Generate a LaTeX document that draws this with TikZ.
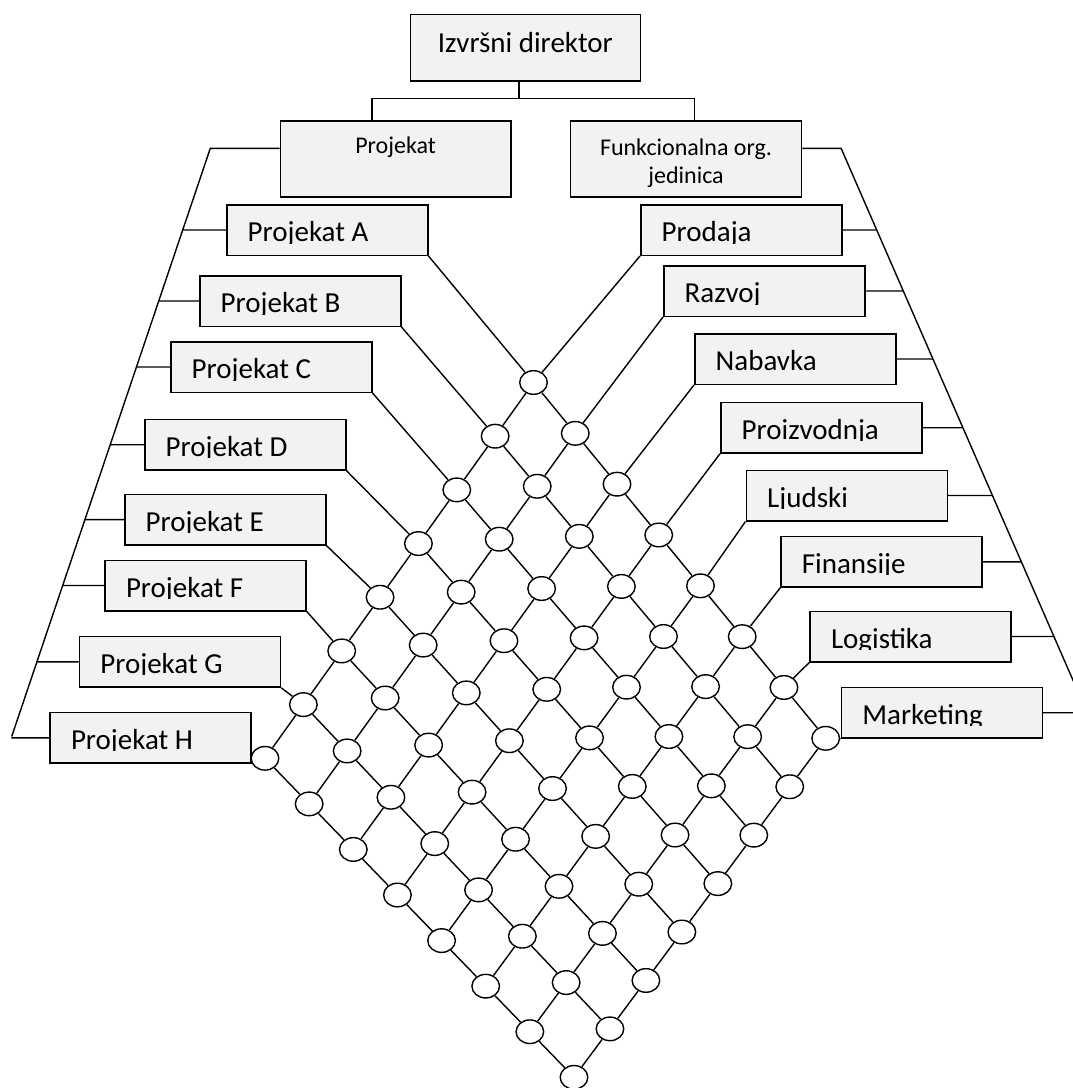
\documentclass[tikz,border=0pt]{standalone}
\usepackage{fontspec}
\setmainfont{Carlito}
\usepackage{tikz}
\usetikzlibrary{positioning, shapes.geometric}
\definecolor{boxGray}{HTML}{F2F2F2}

\begin{document}
\begin{tikzpicture}[
    x = 1pt, y = -1pt,
    rectNode/.style = {draw, fill = boxGray, line width = 1.5pt, rectangle, inner sep = 0pt},
    unitNode/.style = {rectNode, anchor = north west, minimum width = 201pt, minimum height = 50.5pt},
    unitText/.style = {anchor = base west, inner sep = 0pt, font = \fontsize{29pt}{34pt}\selectfont},
    headText/.style = {inner sep = 0pt, font = \fontsize{24pt}{27.6pt}\selectfont},
    cellNode/.style = {draw, fill = white, ellipse, line width = 1.4pt, inner sep = 0pt, minimum width = 27.6pt, minimum height = 23.6pt},
    myLine/.style = {line width = 1.4pt}
    ]
      \useasboundingbox (0,0) rectangle (1073,1088);

      %% Top of the hierarchy
      \node[rectNode, anchor = north west, minimum width = 230pt, minimum height = 66.5pt] (direktor) at (409.6,13.8) {};
      \node[unitText, anchor = base] (direktorText) at ([yshift = -39pt]direktor.north) {Izvršni direktor};

      \node[rectNode, anchor = north west, minimum width = 230.5pt, minimum height = 75.7pt] (projekat) at (279.6,120.3) {};
      \node[headText, anchor = base] (projekatText) at ([yshift = -33.5pt]projekat.north) {Projekat};

      \node[rectNode, anchor = north west, minimum width = 231pt, minimum height = 75.7pt] (funkcija) at (569.8,120.3) {};
      \node[headText, align = center] (funkcijaText) at ([yshift = -4.2pt]funkcija.center) {Funkcionalna org.\\jedinica};

      \coordinate (split) at (518.8,98.5);
      \draw[myLine] (split |- direktor.south) -- (split);
      \draw[myLine] ([xshift = -23.8pt]projekat.north) |- (split) -| ([xshift = 8.7pt]funkcija.north);

      %% Buses
      \coordinate (busLeftTop) at (210.3,148.3);
      \coordinate (busLeftBottom) at (11.7,736.5);
      \coordinate (busRightTop) at (841.1,148.3);
      \coordinate (busRightBottom) at (1086.7,711.7);
      \draw[myLine] (projekat.west |- busLeftTop) -- (busLeftTop) -- (busLeftBottom);
      \draw[myLine] (funkcija.east |- busRightTop) -- (busRightTop) -- (busRightBottom);

      %% Projects
      \foreach \nm/\xx/\yy/\txt in {projA/226/204/Projekat A, projB/199/275/Projekat B, projC/170/341/Projekat C, projD/144/418.7/Projekat D,
                                   projE/124/493.6/Projekat E, projF/104.3/559.5/Projekat F, projG/78.7/635.8/Projekat G, projH/49.3/711.8/Projekat H}{
        \node[unitNode] (\nm) at (\xx,\yy) {};
        \begin{scope}
          \clip (\nm.north west) rectangle ([yshift = -39pt]\nm.north east);
          \node[unitText] (\nm Text) at ([xshift = 21.5pt, yshift = -37.5pt]\nm.north west) {\txt};
        \end{scope}
        \draw[myLine] (\nm.west) -- (intersection of busLeftTop--busLeftBottom and \nm.west--\nm.east);
      }

      %% Functional units
      \foreach \nm/\xx/\yy/\txt in {prodaja/640/204/Prodaja, razvoj/663/265/Razvoj, nabavka/694/333/Nabavka, proizvodnja/720/401.7/Proizvodnja,
                                   ljudski/745.5/469.5/Ljudski, finansije/780.2/535.8/Finansije, logistika/809.3/610.5/Logistika, marketing/840.7/686.7/Marketing}{
        \node[unitNode] (\nm) at (\xx,\yy) {};
        \begin{scope}
          \clip (\nm.north west) rectangle ([yshift = -39pt]\nm.north east);
          \node[unitText] (\nm Text) at ([xshift = 21.5pt, yshift = -37.5pt]\nm.north west) {\txt};
        \end{scope}
        \draw[myLine] (\nm.east) -- (intersection of busRightTop--busRightBottom and \nm.west--\nm.east);
      }

      %% Matrix cells
      \foreach \i in {0,...,7}{
        \foreach \j in {0,...,7}{
          \pgfmathsetmacro{\cx}{533.5 - 268.5*\i/7 + 292.2*\j/7 + 16.8*\i*\j/49}
          \pgfmathsetmacro{\cy}{382.5 + 375.8*\i/7 + 355.8*\j/7 - 36.8*\i*\j/49}
          \node[cellNode] (cell-\i-\j) at (\cx,\cy) {};
        }
      }

      %% Lines
      \foreach \p [count = \i from 0] in {A,...,H}{
        \draw[myLine] (proj\p.south east) -- (cell-\i-0);
        \foreach \j [remember = \j as \k (initially 0)] in {1,...,7}
          \draw[myLine] (cell-\i-\k) -- (cell-\i-\j);
      }
      \foreach \f [count = \j from 0] in {prodaja,razvoj,nabavka,proizvodnja,ljudski,finansije,logistika,marketing}{
        \draw[myLine] (\f.south west) -- (cell-0-\j);
        \foreach \i [remember = \i as \k (initially 0)] in {1,...,7}
          \draw[myLine] (cell-\k-\j) -- (cell-\i-\j);
      }
\end{tikzpicture}
\end{document}
